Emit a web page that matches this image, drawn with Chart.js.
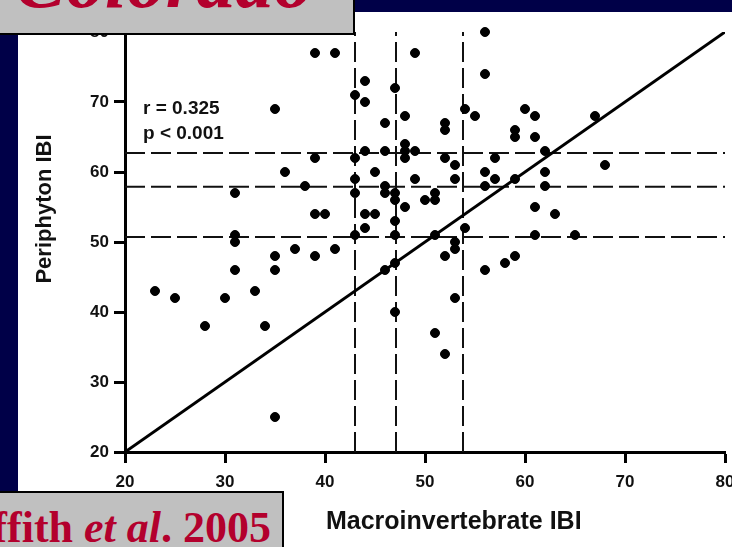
<!DOCTYPE html>
<html>
<head>
<meta charset="utf-8">
<script src="https://cdn.jsdelivr.net/npm/chart.js@4.4.1/dist/chart.umd.min.js"></script>
<style>
  html, body { margin: 0; padding: 0; }
  body { width: 732px; height: 547px; background: #000048; position: relative; overflow: hidden; }
  #page { position: absolute; left: 18px; top: 12px; right: 0; bottom: 0; background: #fff; }
  #chartBox { position: absolute; left: 0; top: 0; width: 732px; height: 547px; }
  .tag { position: absolute; background: #c0c0c0; overflow: hidden; box-sizing: border-box; }
  .tag span { position: absolute; white-space: nowrap; color: #b3002d; font-family: "Liberation Serif", "Times New Roman", serif; font-weight: bold; }
  #titleTag { left: 0; top: 0; width: 355px; height: 35px; border-right: 2px solid #000; border-bottom: 2px solid #000; }
  #titleTag span { font-style: italic; font-size: 78px; line-height: 78px; left: 14px; top: -58px; }
  #citeTag { left: 0; top: 491px; width: 284px; height: 56px; border-right: 2px solid #000; border-top: 2px solid #000; }
  #citeTag span { font-size: 44px; line-height: 44px; right: 11px; top: 13px; }
</style>
</head>
<body>
<div id="page"></div>
<div id="chartBox"><canvas id="ibiChart" width="732" height="547"></canvas></div>
<div class="tag" id="titleTag"><span>Colorado</span></div>
<div class="tag" id="citeTag"><span>Griffith <i>et al</i>. 2005</span></div>
<script>
// site scores
const macroIBI = [23,25,28,30,31,31,31,31,33,34,35,35,35,35,36,37,38,39,39,39,39,40,41,41,43,43,43,43,43,44,44,44,44,44,45,45,46,46,46,46,46,47,47,47,47,47,47,47,48,48,48,48,48,49,49,49,50,51,51,51,51,52,52,52,52,52,53,53,53,53,53,54,54,55,56,56,56,56,56,57,57,58,59,59,59,59,60,61,61,61,61,62,62,62,63,65,67,68];
const periIBI  = [43,42,38,42,57,51,50,46,43,38,69,48,46,25,60,49,58,77,62,54,48,54,77,49,71,62,59,57,51,73,70,63,54,52,60,54,67,63,58,57,46,72,57,56,53,51,47,40,68,64,63,62,55,77,63,59,56,57,56,51,37,67,66,62,48,34,61,59,50,49,42,69,52,68,80,74,60,58,46,62,59,47,66,65,59,48,69,68,65,55,51,63,60,58,54,51,68,61];

const fitX = [20, 80];
const fitY = [20, 80];

// dashed cut lines
const macroCuts = [43, 47.1, 53.8];
const periCuts = [62.7, 57.9, 50.7];

const axisMin = 20;
const axisMax = 80;
const tickStep = 10;

const xTitle = 'Macroinvertebrate IBI';
const yTitle = 'Periphyton IBI';
const statLines = ['r = 0.325', 'p < 0.001'];

const labelFont = '"Liberation Sans", Arial, sans-serif';

function dashedLine(points) {
    return {
        type: 'scatter',
        data: points,
        showLine: true,
        borderColor: '#111',
        borderWidth: 2,
        borderDash: [20, 6],
        pointRadius: 0,
        fill: false
    };
}

const datasets = [{
    label: 'sites',
    data: macroIBI.map((x, i) => ({ x: x, y: periIBI[i] })),
    backgroundColor: '#000',
    borderColor: '#000',
    pointRadius: 4.5,
    pointHoverRadius: 4.5,
    clip: false
}, {
    label: 'fit',
    data: fitX.map((x, i) => ({ x: x, y: fitY[i] })),
    showLine: true,
    borderColor: '#000',
    borderWidth: 3,
    pointRadius: 0,
    fill: false
}];

macroCuts.forEach(v => datasets.push(dashedLine([{ x: v, y: axisMin }, { x: v, y: axisMax }])));
periCuts.forEach(v => datasets.push(dashedLine([{ x: axisMin, y: v }, { x: axisMax, y: v }])));

const textPlugin = {
    id: 'figureText',
    afterDatasetsDraw(chart) {
        const { ctx, chartArea, scales } = chart;
        ctx.save();
        ctx.fillStyle = '#111';
        ctx.textBaseline = 'middle';

        ctx.font = 'bold 19px ' + labelFont;
        ctx.textAlign = 'left';
        ctx.fillText(statLines[0], scales.x.getPixelForValue(21.8), scales.y.getPixelForValue(69));
        ctx.fillText(statLines[1], scales.x.getPixelForValue(21.8), scales.y.getPixelForValue(65.4));

        ctx.textAlign = 'center';
        ctx.font = 'bold 25px ' + labelFont;
        ctx.fillText(xTitle, chartArea.left + chartArea.width * 0.548, 522);

        ctx.font = 'bold 22px ' + labelFont;
        ctx.translate(45, 209);
        ctx.rotate(-Math.PI / 2);
        ctx.fillText(yTitle, 0, 0);
        ctx.restore();
    }
};

function axisOptions(extra) {
    return Object.assign({
        type: 'linear',
        min: axisMin,
        max: axisMax,
        ticks: {
            stepSize: tickStep,
            color: '#111',
            font: { family: labelFont, size: 17, weight: 'bold' }
        },
        grid: {
            drawOnChartArea: false,
            drawTicks: true,
            tickLength: 11,
            tickWidth: 3,
            tickColor: '#000'
        },
        border: { display: true, width: 3, color: '#000' }
    }, extra);
}

const xAxis = axisOptions({
    afterFit(scale) {
        scale.height = 95;
        scale.paddingLeft = 0;
        scale.paddingRight = 0;
    }
});
xAxis.ticks.padding = 9;

const yAxis = axisOptions({
    afterFit(scale) {
        scale.width = 125;
        scale.paddingTop = 0;
        scale.paddingBottom = 0;
    }
});
yAxis.ticks.padding = 5;

new Chart(document.getElementById('ibiChart').getContext('2d'), {
    type: 'scatter',
    data: { datasets: datasets },
    options: {
        responsive: false,
        animation: false,
        layout: { padding: { left: 0, right: 7, top: 32, bottom: 0 } },
        plugins: {
            legend: { display: false },
            tooltip: { enabled: false }
        },
        scales: { x: xAxis, y: yAxis }
    },
    plugins: [textPlugin]
});
</script>
</body>
</html>
